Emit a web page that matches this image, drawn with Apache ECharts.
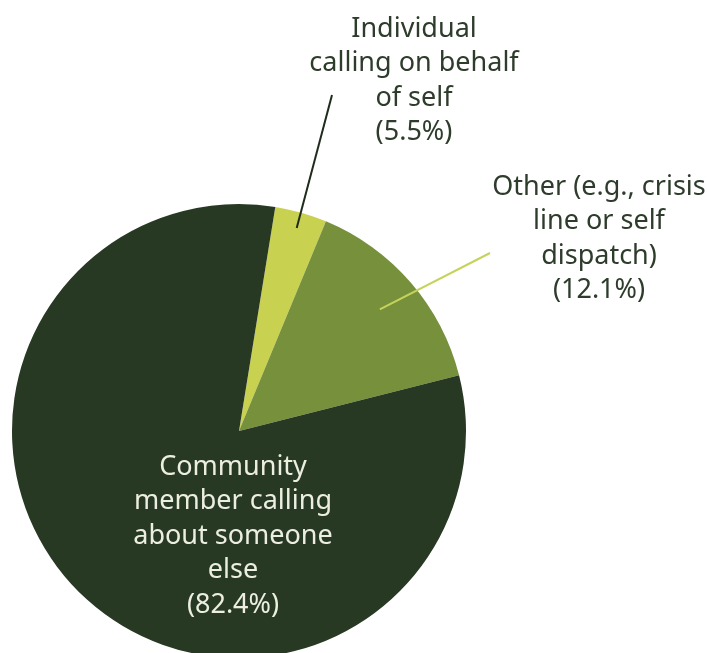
<!DOCTYPE html>
<html>
<head>
<meta charset="utf-8">
<script src="https://cdn.jsdelivr.net/npm/echarts@6/dist/echarts.min.js"></script>
<style>
  html, body { margin: 0; padding: 0; background: #ffffff; }
  #chart { width: 707px; height: 653px; }
</style>
</head>
<body>
<div id="chart"></div>
<script>
// ---- data ----
const categories = [
  'Individual\ncalling on behalf\nof self',
  'Other (e.g., crisis\nline or self\ndispatch)',
  'Community\nmember calling\nabout someone\nelse'
];
// slice sizes as drawn (angular share of the pie, %)
const sliceValues = [3.7, 14.8, 81.5];
// percentages printed in the labels
const labelPercents = ['5.5', '12.1', '82.4'];
const sliceColors = ['#c9d150', '#76903b', '#273823'];

// ---- layout / style ----
const CX = 239, CY = 431, R = 227;
const FONT = '"Noto Sans", "Open Sans", sans-serif';
const labelCfg = [
  { x: 414, y: 81, color: '#2e3c2c', lineColor: '#1f2c1c', lineFrom: 0.93, lineTo: [332, 95] },
  { x: 599, y: 239, color: '#2e3c2c', lineColor: '#c6d35a', lineFrom: 0.82, lineTo: [490, 253] },
  { x: 233, y: 536, color: '#ecefe0' }
];

const chart = echarts.init(document.getElementById('chart'), null, { renderer: 'canvas' });

const baseData = categories.map(function (name, i) {
  return { name: name, value: sliceValues[i], itemStyle: { color: sliceColors[i] } };
});

const labelData = categories.map(function (name, i) {
  const item = {
    name: name,
    value: sliceValues[i],
    itemStyle: { color: 'rgba(0,0,0,0)' },
    label: { color: labelCfg[i].color }
  };
  item.labelLine = labelCfg[i].lineColor
    ? { show: true, lineStyle: { color: labelCfg[i].lineColor, width: 2 } }
    : { show: false };
  return item;
});

chart.setOption({
  animation: false,
  series: [{
    type: 'pie',
    z: 2,
    center: [CX, CY],
    radius: R,
    startAngle: 80.8,
    clockwise: true,
    silent: true,
    itemStyle: { borderWidth: 0 },
    label: { show: false },
    labelLine: { show: false },
    data: baseData
  }, {
    type: 'pie',
    z: 5,
    center: [CX, CY],
    radius: R,
    startAngle: 80.8,
    clockwise: true,
    silent: true,
    avoidLabelOverlap: false,
    itemStyle: { borderWidth: 0 },
    label: {
      show: true,
      position: 'outside',
      fontFamily: FONT,
      fontSize: 27,
      lineHeight: 34.5,
      align: 'center',
      formatter: function (p) {
        return p.name + '\n(' + labelPercents[p.dataIndex] + '%)';
      }
    },
    labelLine: { show: true, length: 40, length2: 0, smooth: false },
    labelLayout: function (p) {
      const cfg = labelCfg[p.dataIndex];
      const out = { x: cfg.x, y: cfg.y, align: 'center', verticalAlign: 'middle' };
      if (cfg.lineTo && p.labelLinePoints && p.labelLinePoints.length) {
        const e = p.labelLinePoints[0];
        const s = [CX + (e[0] - CX) * cfg.lineFrom, CY + (e[1] - CY) * cfg.lineFrom];
        out.labelLinePoints = [s, cfg.lineTo, cfg.lineTo];
      }
      return out;
    },
    data: labelData
  }]
});
</script>
</body>
</html>
